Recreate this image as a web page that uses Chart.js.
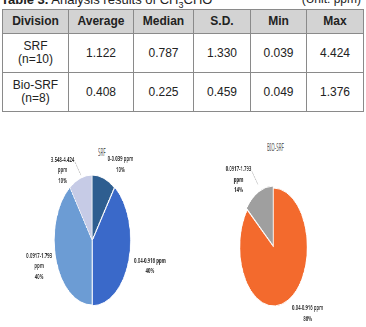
<!DOCTYPE html>
<html>
<head>
<meta charset="utf-8">
<script src="https://cdn.jsdelivr.net/npm/chart.js@4.4.1/dist/chart.umd.min.js"></script>
<style>
  html, body { margin: 0; padding: 0; background: #fff; }
  body { width: 366px; height: 327px; position: relative; overflow: hidden; font-family: "Liberation Sans", Arial, sans-serif; color: #222; }
  #caption { position: absolute; left: 1px; top: -8px; width: 362px; font-size: 13px; line-height: 15px; white-space: nowrap; }
  #caption .unit { position: absolute; right: 2px; top: 0; font-size: 12px; }
  #stats { position: absolute; left: 2px; top: 9px; border-collapse: collapse; table-layout: fixed; width: 362px; font-size: 12px; }
  #stats th, #stats td { border: 1px solid #8a8a8a; text-align: center; padding: 0; line-height: 13px; }
  #stats th { background: #d3d3d3; height: 23px; font-weight: bold; }
  #stats td { height: 38px; }
  .pie { position: absolute; top: 140px; width: 300px; height: 187px; transform-origin: 0 0; }
  .ptitle { position: absolute; font-family: "Noto Sans", sans-serif; font-size: 10.5px; line-height: 12px; color: #595959; transform: scaleX(0.42); transform-origin: 0 0; white-space: nowrap; }
</style>
</head>
<body>
<div id="caption"><b>Table 3.</b> Analysis results of CH<sub style="font-size:9px">3</sub>CHO<span class="unit">(Unit: ppm)</span></div>
<table id="stats">
  <colgroup>
    <col style="width:66px"><col style="width:65px"><col style="width:60px"><col style="width:57px"><col style="width:56px"><col style="width:57px">
  </colgroup>
  <thead><tr id="headRow"></tr></thead>
  <tbody id="statsBody"></tbody>
</table>

<div class="ptitle" style="left:98px; top:146px;">SRF</div>
<div class="ptitle" style="left:267px; top:141px;">BIO-SRF</div>

<div class="pie" style="left:5px; transform: scaleX(0.58);"><canvas id="srfChart"></canvas></div>
<div class="pie" style="left:188px; transform: scaleX(0.57);"><canvas id="bioChart"></canvas></div>

<script>
// table data
const columns = ['Division', 'Average', 'Median', 'S.D.', 'Min', 'Max'];
const divisions = [['SRF', '(n=10)'], ['Bio-SRF', '(n=8)']];
const averages = ['1.122', '0.408'];
const medians = ['0.787', '0.225'];
const sds = ['1.330', '0.459'];
const mins = ['0.039', '0.049'];
const maxs = ['4.424', '1.376'];

// pie data
const srfLabels = ['0-0.039 ppm', '0.04-0.916 ppm', '0.0917-1.793 ppm', '3.548-4.424 ppm'];
const srfValues = [1, 4, 4, 1];
const srfColors = ['#2e5e90', '#3a69c9', '#6c9cd4', '#c6cbe6'];
const bioLabels = ['0.04-0.916 ppm', '0.0917-1.793 ppm'];
const bioValues = [6, 1];
const bioColors = ['#f36a2d', '#9f9f9f'];

document.getElementById('headRow').innerHTML = columns.map(c => `<th>${c}</th>`).join('');
document.getElementById('statsBody').innerHTML = divisions.map((d, i) => `<tr>
  <td>${d[0]}<br>${d[1]}</td>
  <td>${averages[i]}</td><td>${medians[i]}</td><td>${sds[i]}</td><td>${mins[i]}</td><td>${maxs[i]}</td>
</tr>`).join('');

// data labels next to each slice, excel "best fit" style
const sliceLabels = {
    id: 'sliceLabels',
    afterDatasetsDraw(chart) {
        const ctx = chart.ctx;
        const meta = chart.getDatasetMeta(0);
        const data = chart.data.datasets[0].data;
        const total = data.reduce((a, b) => a + b, 0);
        const lh = 10.5, gx = 7, gy = 4;
        ctx.save();
        ctx.font = 'bold 7.4px "Noto Sans"';
        ctx.fillStyle = '#3a3a3a';
        ctx.textAlign = 'center';
        ctx.textBaseline = 'middle';
        meta.data.forEach((arc, i) => {
            const p = arc.getProps(['x', 'y', 'startAngle', 'endAngle', 'outerRadius'], true);
            const mid = (p.startAngle + p.endAngle) / 2;
            const cos = Math.cos(mid), sin = Math.sin(mid);
            const off = arc.options.offset || 0;
            const ex = p.x + cos * (p.outerRadius + off);
            const ey = p.y + sin * (p.outerRadius + off);
            const share = data[i] / total;
            const pct = Math.round(share * 100) + '%';
            const name = chart.data.labels[i];
            const lines = cos < 0 ? [name.replace(' ppm', ''), 'ppm', pct] : [name, pct];
            const w = Math.max(...lines.map(t => ctx.measureText(t).width));
            const h = lines.length * lh;
            const leader = share < 0.15 && cos < 0;
            let cx, cy;
            if (leader) {
                cx = ex - w / 2 - gx * 1.5;
                cy = ey - h / 4;
            } else {
                cx = ex + Math.sign(cos) * (w / 2 + gx);
                cy = ey + sin * (h / 2 + gy);
            }
            const y0 = cy - h / 2 + lh / 2;
            lines.forEach((t, k) => ctx.fillText(t, cx, y0 + k * lh));
            if (leader) {
                ctx.strokeStyle = '#a6a6a6';
                ctx.lineWidth = 0.8;
                ctx.beginPath();
                ctx.moveTo(cx + ctx.measureText(lines[0]).width / 2 + 1, y0 + 2);
                ctx.lineTo(ex - cos * 3, ey - 3);
                ctx.stroke();
            }
        });
        ctx.restore();
    }
};

const makePie = (id, labels, values, colors, offsets, padTop, padBottom) => {
    const ctx = document.getElementById(id).getContext('2d');
    return new Chart(ctx, {
        type: 'pie',
        data: {
            labels: labels,
            datasets: [{
                data: values,
                backgroundColor: colors,
                borderColor: '#ffffff',
                borderWidth: 1,
                offset: offsets
            }]
        },
        options: {
            responsive: true,
            maintainAspectRatio: false,
            animation: false,
            events: [],
            layout: { padding: { top: padTop, bottom: padBottom, left: 0, right: 0 } },
            plugins: {
                legend: { display: false },
                tooltip: { enabled: false }
            }
        },
        plugins: [sliceLabels]
    });
};

makePie('srfChart', srfLabels, srfValues, srfColors, [0, 4, 0, 0], 32.5, 19.5);
makePie('bioChart', bioLabels, bioValues, bioColors, [0, 7], 44, 17);
</script>
</body>
</html>
